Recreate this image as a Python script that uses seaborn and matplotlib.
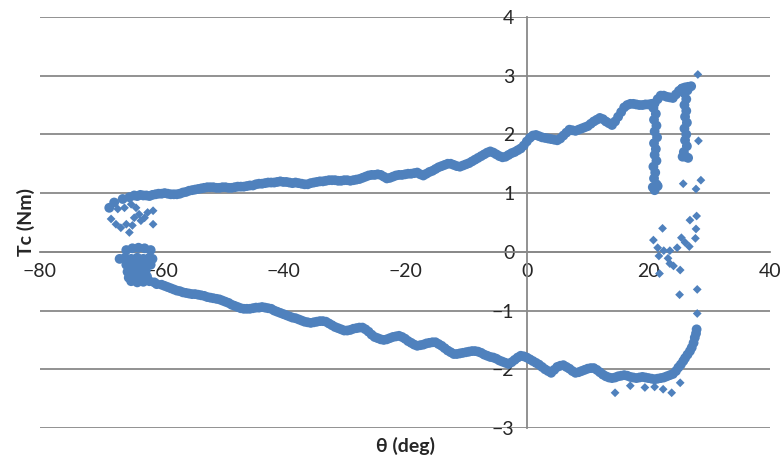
import matplotlib
matplotlib.use('Agg')
import matplotlib.pyplot as plt
import seaborn as sns
import pandas as pd

# torque vs angle
# upper branch (left -> right)
upper_x = [-68.6, -67.8, -66.4, -65.3, -64.0, -63.0, -62.0, -61.0, -60.0, -59.0, -58.0, -57.0, -56.0,
           -55.0, -54.0, -53.0, -52.0, -51.0, -50.0, -49.0, -48.0, -47.0, -46.0, -45.0, -44.0, -43.0,
           -42.0, -41.0, -40.0, -39.0, -38.0, -37.0, -36.0, -35.0, -34.0, -33.0, -32.0, -31.0, -30.0,
           -29.0, -28.0, -27.0, -26.0, -25.0, -24.0, -23.0, -22.0, -21.0, -20.0, -19.0, -18.0, -17.0,
           -16.0, -15.0, -14.0, -13.0, -12.0, -11.0, -10.0, -9.0, -8.0, -7.0, -6.0, -5.0, -4.0, -3.0,
           -2.0, -1.0, 0.0, 1.0, 2.0, 3.0, 4.0, 5.0, 6.0, 7.0, 8.0, 9.0, 10.0, 11.0, 12.0, 13.0, 14.0,
           15.0, 16.0, 17.0, 18.0, 19.0, 20.0, 21.0, 22.0, 23.0, 24.0, 25.0, 26.0, 27.0]
upper_y = [0.75, 0.84, 0.90, 0.93, 0.95, 0.96, 0.95, 0.98, 0.99, 0.99, 0.98, 0.99, 1.02,
           1.05, 1.07, 1.09, 1.10, 1.09, 1.10, 1.09, 1.10, 1.11, 1.12, 1.13, 1.16, 1.17,
           1.18, 1.19, 1.19, 1.18, 1.18, 1.16, 1.15, 1.18, 1.20, 1.21, 1.22, 1.21, 1.22,
           1.21, 1.23, 1.26, 1.30, 1.31, 1.31, 1.25, 1.28, 1.31, 1.32, 1.33, 1.35, 1.30,
           1.36, 1.41, 1.46, 1.50, 1.48, 1.45, 1.49, 1.54, 1.60, 1.66, 1.71, 1.66, 1.61, 1.65,
           1.70, 1.76, 1.88, 1.98, 1.97, 1.94, 1.92, 1.90, 1.98, 2.08, 2.06, 2.10, 2.14, 2.22,
           2.28, 2.22, 2.16, 2.30, 2.46, 2.52, 2.51, 2.50, 2.51, 2.53, 2.66, 2.64, 2.62, 2.74,
           2.80, 2.82]
# upper branch, readings in between the whole degrees
upper_mid_x = [-64.5, -63.5, -62.5, -61.5, -60.5, -59.5, -58.5, -57.5, -56.5, -55.5, -54.5, -53.5,
               -52.5, -51.5, -50.5, -49.5, -48.5, -47.5, -46.5, -45.5, -44.5, -43.5, -42.5, -41.5,
               -40.5, -39.5, -38.5, -37.5, -36.5, -35.5, -34.5, -33.5, -32.5, -31.5, -30.5, -29.5,
               -28.5, -27.5, -26.5, -25.5, -24.5, -23.5, -22.5, -21.5, -20.5, -19.5, -18.5, -17.5,
               -16.5, -15.5, -14.5, -13.5, -12.5, -11.5, -10.5, -9.5, -8.5, -7.5, -6.5, -5.5, -4.5,
               -3.5, -2.5, -1.5, -0.5, 0.5, 1.5, 2.5, 3.5, 4.5, 5.5, 6.5, 7.5, 8.5, 9.5, 10.5, 11.5,
               12.5, 13.5, 14.5, 15.5, 16.5, 17.5, 18.5, 19.5, 20.5, 21.5, 22.5, 23.5, 24.5, 25.5, 26.5]
upper_mid_y = [0.96, 0.97, 0.96, 0.97, 0.99, 1.00, 0.98, 0.98, 1.01, 1.04, 1.06, 1.08,
               1.10, 1.10, 1.09, 1.10, 1.09, 1.11, 1.11, 1.13, 1.15, 1.16, 1.18, 1.18,
               1.20, 1.19, 1.17, 1.17, 1.15, 1.17, 1.19, 1.20, 1.22, 1.22, 1.21, 1.22,
               1.22, 1.24, 1.28, 1.31, 1.32, 1.28, 1.26, 1.30, 1.31, 1.33, 1.34, 1.32,
               1.33, 1.38, 1.44, 1.48, 1.50, 1.46, 1.47, 1.51, 1.57, 1.63, 1.69, 1.69, 1.63,
               1.62, 1.68, 1.73, 1.81, 1.94, 1.99, 1.95, 1.93, 1.91, 1.93, 2.03, 2.07, 2.08, 2.12, 2.18, 2.25,
               2.26, 2.19, 2.22, 2.38, 2.50, 2.52, 2.50, 2.51, 2.52, 2.60, 2.66, 2.63, 2.68, 2.78, 2.81]

# two vertical drops near 21 and 26 deg
drop_x = [20.8, 21.2, 20.9, 21.3, 21.0, 21.4, 20.9, 21.2, 21.0, 21.3, 20.8, 21.1, 20.9, 21.3, 20.7,
          21.0, 21.5, 25.9, 26.2, 25.9, 26.2, 26.0, 26.3, 25.9, 26.2, 26.0, 26.3, 25.8, 26.1, 25.6,
          26.5, 26.4, 25.5]
drop_y = [2.45, 2.35, 2.25, 2.15, 2.05, 1.95, 1.85, 1.75, 1.65, 1.55, 1.45, 1.35, 1.25, 1.15, 1.10,
          1.05, 1.12, 2.70, 2.60, 2.50, 2.40, 2.30, 2.20, 2.10, 2.00, 1.90, 1.80, 1.70, 1.62, 1.62,
          1.60, 2.75, 2.78]

# blob where the lower branch starts (left end, just under zero)
blob_x = [-65.8, -64.8, -63.8, -62.8, -61.8, -66.9, -66.0, -65.0, -64.0, -63.0, -62.0, -61.5,
          -65.8, -64.8, -63.8, -62.8, -61.8, -65.6, -64.6, -63.6, -62.6, -65.4, -64.4, -63.4,
          -62.4, -65.0, -64.0, -63.0, -62.0, -61.2, -60.8]
blob_y = [0.03, 0.06, 0.07, 0.06, 0.03, -0.12, -0.10, -0.12, -0.10, -0.12, -0.10, -0.12,
          -0.22, -0.25, -0.20, -0.24, -0.22, -0.34, -0.32, -0.35, -0.32, -0.44, -0.42, -0.45,
          -0.42, -0.50, -0.52, -0.51, -0.50, -0.52, -0.55]

# lower branch (left -> right)
lower_x = [-60.0, -59.0, -58.0, -57.0, -56.0, -55.0, -54.0, -53.0, -52.0, -51.0, -50.0, -49.0, -48.0,
           -47.0, -46.0, -45.0, -44.0, -43.0, -42.0, -41.0, -40.0, -39.0, -38.0, -37.0, -36.0, -35.0,
           -34.0, -33.0, -32.0, -31.0, -30.0, -29.0, -28.0, -27.0, -26.0, -25.0, -24.0, -23.0, -22.0,
           -21.0, -20.0, -19.0, -18.0, -17.0, -16.0, -15.0, -14.0, -13.0, -12.0, -11.0, -10.0, -9.0,
           -8.0, -7.0, -6.0, -5.0, -4.0, -3.0, -2.0, -1.0, 0.0, 1.0, 2.0, 3.0, 4.0, 5.0, 6.0, 7.0,
           8.0, 9.0, 10.0, 11.0, 12.0, 13.0, 14.0, 15.0, 16.0, 17.0, 18.0, 19.0, 20.0, 21.0, 22.0,
           23.0, 24.0, 24.9, 25.7, 26.4, 27.1, 27.6, 27.9]
lower_y = [-0.56, -0.60, -0.64, -0.67, -0.70, -0.72, -0.73, -0.75, -0.78, -0.80, -0.83, -0.87, -0.92,
           -0.96, -0.97, -0.96, -0.95, -0.95, -0.97, -1.02, -1.06, -1.10, -1.13, -1.17, -1.20, -1.20,
           -1.18, -1.19, -1.25, -1.30, -1.34, -1.33, -1.30, -1.29, -1.36, -1.45, -1.49, -1.49, -1.45,
           -1.43, -1.48, -1.55, -1.60, -1.58, -1.55, -1.54, -1.60, -1.68, -1.74, -1.73, -1.71, -1.69,
           -1.70, -1.75, -1.79, -1.82, -1.87, -1.91, -1.84, -1.77, -1.80, -1.86, -1.92, -2.00, -2.06,
           -1.96, -1.93, -1.99, -2.06, -2.03, -1.99, -1.98, -2.05, -2.12, -2.15, -2.12, -2.10, -2.13,
           -2.15, -2.13, -2.15, -2.17, -2.15, -2.12, -2.08, -1.97, -1.86, -1.75, -1.63, -1.46, -1.32]
# lower branch, readings in between
lower_mid_x = [-59.5, -58.5, -57.5, -56.5, -55.5, -54.5, -53.5, -52.5, -51.5, -50.5, -49.5, -48.5,
               -47.5, -46.5, -45.5, -44.5, -43.5, -42.5, -41.5, -40.5, -39.5, -38.5, -37.5, -36.5,
               -35.5, -34.5, -33.5, -32.5, -31.5, -30.5, -29.5, -28.5, -27.5, -26.5, -25.5, -24.5,
               -23.5, -22.5, -21.5, -20.5, -19.5, -18.5, -17.5, -16.5, -15.5, -14.5, -13.5, -12.5,
               -11.5, -10.5, -9.5, -8.5, -7.5, -6.5, -5.5, -4.5, -3.5, -2.5, -1.5, -0.5, 0.5, 1.5,
               2.5, 3.5, 4.5, 5.5, 6.5, 7.5, 8.5, 9.5, 10.5, 11.5, 12.5, 13.5, 14.5, 15.5, 16.5, 17.5,
               18.5, 19.5, 20.5, 21.5, 22.5, 23.5, 24.5, 25.3, 26.0, 26.8, 27.4, 27.8]
lower_mid_y = [-0.58, -0.62, -0.66, -0.69, -0.71, -0.72, -0.74, -0.77, -0.79, -0.81, -0.85, -0.90,
               -0.94, -0.97, -0.97, -0.95, -0.94, -0.96, -1.00, -1.04, -1.08, -1.12, -1.15, -1.19,
               -1.21, -1.19, -1.18, -1.22, -1.28, -1.32, -1.34, -1.31, -1.29, -1.32, -1.41, -1.47,
               -1.50, -1.47, -1.44, -1.45, -1.52, -1.58, -1.59, -1.56, -1.54, -1.57, -1.64, -1.71,
               -1.74, -1.72, -1.70, -1.69, -1.72, -1.77, -1.80, -1.85, -1.89, -1.88, -1.80, -1.78, -1.83, -1.89,
               -1.96, -2.03, -2.01, -1.94, -1.96, -2.03, -2.05, -2.01, -1.98, -2.01, -2.09, -2.14, -2.14, -2.11, -2.11, -2.14,
               -2.14, -2.14, -2.16, -2.16, -2.14, -2.10, -2.03, -1.92, -1.81, -1.69, -1.55, -1.39]

# loose points (left end cluster, right end, bottom stragglers)
loose_x = [-68.3, -67.5, -66.7, -65.3, -65.8, -64.5, -63.7, -62.8, -62.3, -61.4, -61.4, -64.2, -65.0,
           -66.1, -67.2, -63.4, -64.8,
           28.1, 28.2, 25.7, 28.6, 27.8, 27.9, 26.8, 27.8, 27.7, 26.7, 26.0, 25.4, 24.7, 22.3, 20.8,
           21.5, 22.5, 23.5, 21.7, 23.2, 23.5, 24.1, 25.2, 21.8, 25.1, 28.0, 28.0,
           14.5, 19.4, 22.4, 23.8, 25.2, 17.0, 21.0]
loose_y = [0.56, 0.47, 0.41, 0.33, 0.47, 0.58, 0.64, 0.58, 0.67, 0.70, 0.47, 0.75, 0.81,
           0.75, 0.73, 0.53, 0.45,
           3.02, 1.89, 1.16, 1.22, 1.07, 0.61, 0.54, 0.39, 0.23, 0.09, 0.16, 0.24, 0.07, 0.40, 0.20,
           0.07, 0.02, 0.02, -0.07, -0.11, -0.20, -0.24, -0.31, -0.37, -0.73, -0.64, -1.05,
           -2.40, -2.31, -2.34, -2.40, -2.23, -2.28, -2.30]

x_ticks = [-80, -60, -40, -20, 0, 20, 40]
y_ticks = [-3, -2, -1, 0, 1, 2, 3, 4]

band = pd.DataFrame({'theta': upper_x + upper_mid_x + drop_x + blob_x + lower_x + lower_mid_x,
                     'tc': upper_y + upper_mid_y + drop_y + blob_y + lower_y + lower_mid_y})
loose = pd.DataFrame({'theta': loose_x, 'tc': loose_y})

sns.set_style('white')
plt.rcParams['font.family'] = ['Lato', 'DejaVu Sans']

blue = '#4F81BD'
grey = '#898989'
fig, ax = plt.subplots(figsize=(7.82, 4.58), dpi=100)
fig.subplots_adjust(left=0.051, right=0.985, top=0.963, bottom=0.0655)

# dense trace drawn with fat markers so it reads as a band
sns.scatterplot(data=band, x='theta', y='tc', color=blue, marker='o', s=50,
                edgecolor='none', ax=ax, zorder=3)
sns.scatterplot(data=loose, x='theta', y='tc', color=blue, marker='D', s=20,
                edgecolor='none', ax=ax, zorder=3)

ax.set_xlim(-80, 40)
ax.set_ylim(-3, 4)
ax.set_xticks(x_ticks)
ax.set_yticks(y_ticks)
ax.yaxis.grid(True, color=grey, lw=1.3)
ax.xaxis.grid(False)
ax.set_axisbelow(True)

# excel-style axes crossing at zero
ax.spines['left'].set_position(('data', 0))
ax.spines['bottom'].set_position(('data', 0))
for s in ['top', 'right']:
    ax.spines[s].set_visible(False)
for s in ['left', 'bottom']:
    ax.spines[s].set_color(grey)
    ax.spines[s].set_linewidth(1.3)

ax.tick_params(axis='x', direction='out', length=6, width=1.3, color=grey, labelsize=14, pad=2)
ax.tick_params(axis='y', length=0, pad=9, labelsize=14)

ax.set_xlabel('θ (deg)', fontweight='bold', fontsize=14)
ax.set_ylabel('Tc (Nm)', fontweight='bold', fontsize=14)
ax.xaxis.set_label_coords(0.5, -0.022)
ax.yaxis.set_label_coords(-0.007, 0.5)

plt.savefig('out.png', dpi=100)
